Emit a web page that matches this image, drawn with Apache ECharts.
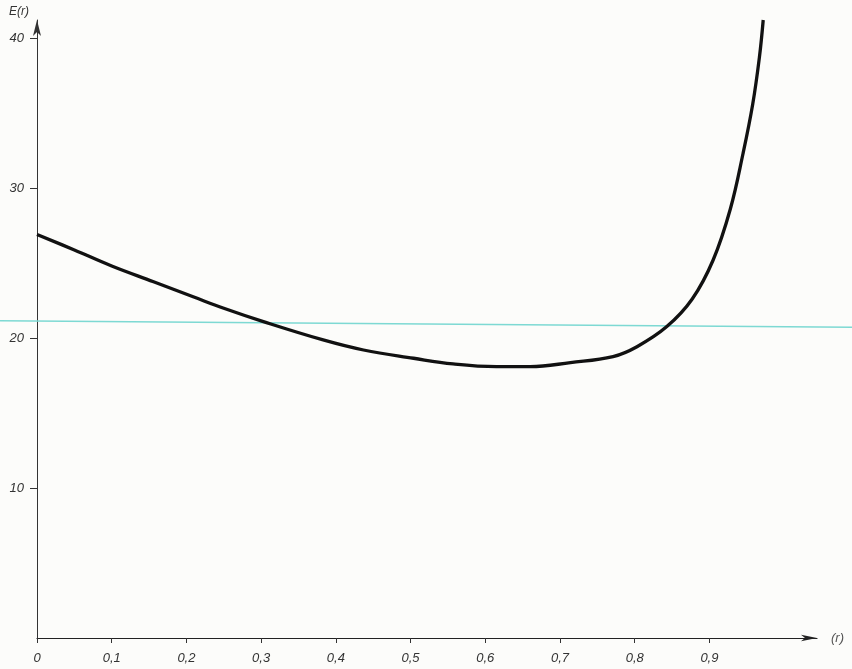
<!DOCTYPE html>
<html>
<head>
<meta charset="utf-8">
<script src="https://cdn.jsdelivr.net/npm/echarts@6/dist/echarts.min.js"></script>
<style>
html,body{margin:0;padding:0;background:#fcfcfa;}
#c{width:852px;height:669px;}
</style>
</head>
<body>
<div id="c"></div>
<script>
// Curve E(r)
var rValues = [0, 0.05, 0.1, 0.156, 0.209, 0.25, 0.303, 0.383, 0.437, 0.504, 0.557, 0.615, 0.66, 0.714, 0.771, 0.803, 0.843, 0.877, 0.905, 0.928, 0.945, 0.958, 0.967, 0.972];
var eValues = [26.9, 25.87, 24.8, 23.75, 22.75, 21.98, 21.09, 19.87, 19.2, 18.65, 18.27, 18.09, 18.09, 18.36, 18.76, 19.42, 20.76, 22.6, 25.2, 28.6, 32.3, 35.6, 38.75, 41.2];
// Horizontal reference line (slightly tilted in the scan), spans the full page width
var refR = [-0.0495, 1.091];
var refE = [21.15, 20.72];
// Axis ranges and tick labels
var xMin = 0, xMax = 1.044, xStep = 0.1;
var xTicks = [0, 0.1, 0.2, 0.3, 0.4, 0.5, 0.6, 0.7, 0.8, 0.9];
var xTickLabels = ['0', '0,1', '0,2', '0,3', '0,4', '0,5', '0,6', '0,7', '0,8', '0,9'];
var yMin = 0, yMax = 41.2, yStep = 10;
var yTicks = [10, 20, 30, 40];
var yAxisName = 'E(r)';
var xAxisName = '(r)';

var curve = rValues.map(function(r, i){ return [r, eValues[i]]; });
var ref = refR.map(function(r, i){ return [r, refE[i]]; });

var labelFont = {fontFamily: 'Liberation Sans', fontStyle: 'italic', fontSize: 13, color: '#333'};

var chart = echarts.init(document.getElementById('c'), null, {renderer: 'canvas'});
chart.setOption({
  backgroundColor: '#fcfcfa',
  animation: false,
  grid: [
    {left: 37, right: 35, top: 20, bottom: 31, containLabel: false},
    {left: 0, right: 0, top: 20, bottom: 31, containLabel: false}
  ],
  xAxis: [{
    type: 'value', gridIndex: 0, min: xMin, max: xMax, interval: xStep,
    name: xAxisName, nameLocation: 'end', nameGap: 14,
    nameTextStyle: Object.assign({}, labelFont, {color: '#555', verticalAlign: 'middle', padding: [0, 0, 10, 0]}),
    axisLine: {show: true, lineStyle: {color: '#222', width: 1.2}, symbol: ['none', 'arrow'], symbolSize: [5, 16]},
    axisTick: {show: true, inside: false, length: 5, lineStyle: {color: '#333'}, customValues: xTicks},
    axisLabel: Object.assign({}, labelFont, {margin: 14, customValues: xTicks,
      formatter: function(v){ var i = xTicks.indexOf(Math.round(v * 10) / 10); return i >= 0 ? xTickLabels[i] : ''; }}),
    splitLine: {show: false}
  }, {
    type: 'value', gridIndex: 1, min: refR[0], max: refR[1], show: false
  }],
  yAxis: [{
    type: 'value', gridIndex: 0, min: yMin, max: yMax, interval: yStep,
    name: yAxisName, nameLocation: 'end', nameGap: 2,
    nameTextStyle: Object.assign({}, labelFont, {fontSize: 12, align: 'right', verticalAlign: 'bottom', padding: [0, 8, 0, 0]}),
    axisLine: {show: true, lineStyle: {color: '#333', width: 1}, symbol: ['none', 'arrow'], symbolSize: [6, 16]},
    axisTick: {show: true, inside: false, length: 7, lineStyle: {color: '#333'}, customValues: yTicks},
    axisLabel: Object.assign({}, labelFont, {margin: 13, customValues: yTicks}),
    splitLine: {show: false}
  }, {
    type: 'value', gridIndex: 1, min: yMin, max: yMax, show: false
  }],
  series: [
    {
      type: 'line', xAxisIndex: 1, yAxisIndex: 1, data: ref, showSymbol: false, silent: true,
      lineStyle: {color: '#7dd9d3', width: 1.5}, z: 1
    },
    {
      type: 'line', xAxisIndex: 0, yAxisIndex: 0, data: curve, clip: false,
      smooth: 0.4, showSymbol: false,
      lineStyle: {color: '#111', width: 3.3}, z: 2
    }
  ]
});
</script>
</body>
</html>
